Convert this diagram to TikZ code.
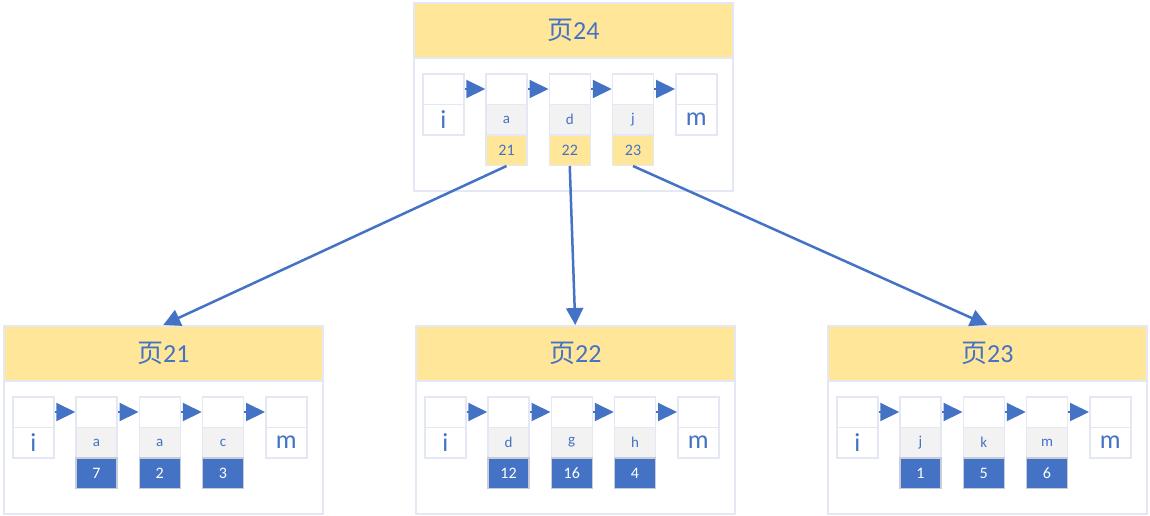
\documentclass[tikz,border=0pt]{standalone}
\usepackage{fontspec}
\setmainfont{Carlito}
\newfontfamily\cjk{Noto Sans CJK SC}
\usetikzlibrary{arrows.meta}
\definecolor{bl}{HTML}{4472C4}
\definecolor{yl}{HTML}{FFE699}
\definecolor{gr}{HTML}{F2F2F2}
\definecolor{bd}{HTML}{E4E8F4}
\definecolor{vbd}{HTML}{C8CCD8}
\tikzset{
  outerbox/.style={draw=bd, line width=1.5pt, fill=white, minimum width=319pt, minimum height=188pt, inner sep=0pt, anchor=north west},
  headbox/.style={draw=bd, line width=1.5pt, fill=yl, minimum width=319pt, minimum height=55pt, inner sep=0pt, anchor=north west, text=bl, font=\fontsize{26}{30}\selectfont},
  cellbox/.style={draw=bd, line width=1.5pt, fill=white, minimum width=41pt, minimum height=30.5pt, inner sep=0pt, anchor=north west, text=bl},
  bigtxt/.style={font=\fontsize{26}{30}\selectfont},
  keybox/.style={cellbox, fill=gr, font=\fontsize{15}{17}\selectfont},
  yval/.style={cellbox, fill=yl, text=bl, font=\fontsize{16}{18}\selectfont},
  bval/.style={cellbox, draw=vbd, fill=bl, text=white, font=\fontsize{16}{18}\selectfont},
  cellarrow/.style={draw=bl, line width=2pt, -{Triangle[length=19pt,width=18pt]}},
  mainarrow/.style={draw=bl, line width=2.5pt, -{Triangle[length=17pt,width=17pt]}}
}
% page frame: #1 x, #2 y, #3 prefix, #4 number
\newcommand\pgframe[4]{%
  \node[outerbox] (#3o) at (#1,#2) {};
  \node[headbox] (#3h) at (#1,#2) {{\cjk 页}#4};
  \foreach \k in {0,...,4}{
    \node[cellbox] (#3t\k) at ({#1+9+63.25*\k},{#2+71}) {};
  }
  \node[cellbox, bigtxt] (#3i) at ({#1+9},{#2+101.5}) {i};
  \node[cellbox, bigtxt] (#3m) at ({#1+262},{#2+101.5}) {m};
  \foreach \k/\n in {0/1,1/2,2/3,3/4}{
    \draw[cellarrow] (#3t\k.east) -- (#3t\n.west);
  }
}
% key/value column: #1 x, #2 y, #3 prefix, #4 column, #5 key, #6 value, #7 style
\newcommand\pgkv[7]{%
  \node[keybox] (#3k#4) at ({#1+9+63.25*#4},{#2+101.5}) {#5};
  \node[#7] (#3v#4) at ({#1+9+63.25*#4},{#2+132}) {#6};
}
\begin{document}
\begin{tikzpicture}[x=1pt,y=-1pt]
\useasboundingbox (0,0) rectangle (1150,515);
% top page
\pgframe{413}{2}{pa}{24}
\pgkv{413}{2}{pa}{1}{a}{21}{yval}
\pgkv{413}{2}{pa}{2}{d}{22}{yval}
\pgkv{413}{2}{pa}{3}{j}{23}{yval}
% page 21
\pgframe{3}{325}{pb}{21}
\pgkv{3}{325}{pb}{1}{a}{7}{bval}
\pgkv{3}{325}{pb}{2}{a}{2}{bval}
\pgkv{3}{325}{pb}{3}{c}{3}{bval}
% page 22
\pgframe{415}{325}{pc}{22}
\pgkv{415}{325}{pc}{1}{d}{12}{bval}
\pgkv{415}{325}{pc}{2}{g}{16}{bval}
\pgkv{415}{325}{pc}{3}{h}{4}{bval}
% page 23
\pgframe{827}{325}{pd}{23}
\pgkv{827}{325}{pd}{1}{j}{1}{bval}
\pgkv{827}{325}{pd}{2}{k}{5}{bval}
\pgkv{827}{325}{pd}{3}{m}{6}{bval}
% connectors
\draw[mainarrow] (pav1.south) -- (pbh.north);
\draw[mainarrow] (pav2.south) -- (pch.north);
\draw[mainarrow] (pav3.south) -- (pdh.north);
\end{tikzpicture}
\end{document}
